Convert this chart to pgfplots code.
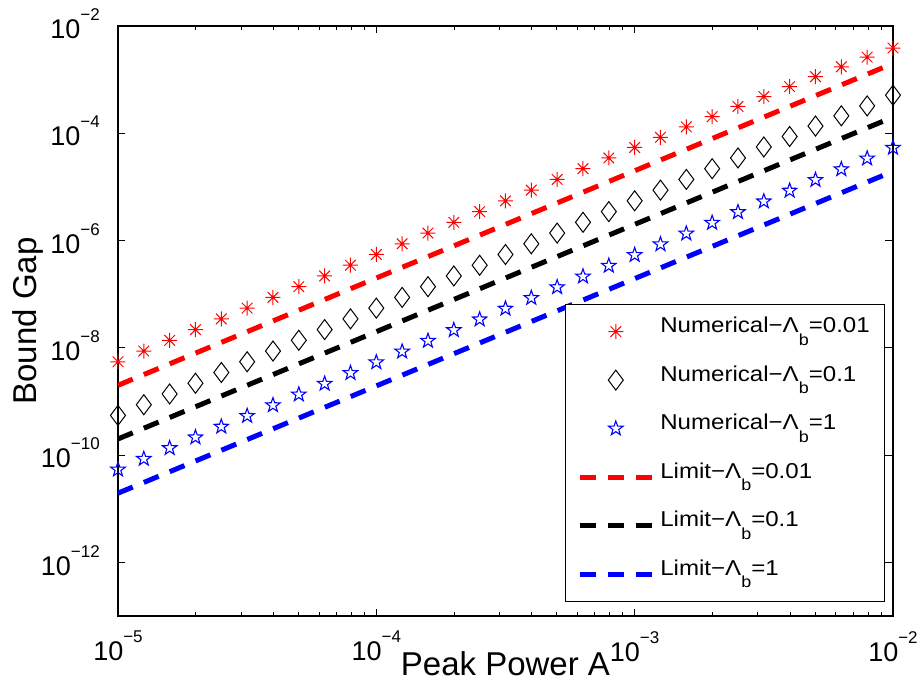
\documentclass[border=0pt]{standalone}
\usepackage{fontspec}
\setmainfont{Liberation Sans}
\newfontfamily\legfont{Liberation Sans}[FakeStretch=1.12]
\usepackage{pgfplots}
\usepackage{pgfplotstable}
\pgfplotsset{compat=1.18}
\usetikzlibrary{plotmarks}

\pgfdeclareplotmark{mlstar}{%
  \pgfpathmoveto{\pgfqpoint{-\pgfplotmarksize}{0pt}}\pgfpathlineto{\pgfqpoint{\pgfplotmarksize}{0pt}}%
  \pgfpathmoveto{\pgfqpoint{0pt}{-\pgfplotmarksize}}\pgfpathlineto{\pgfqpoint{0pt}{\pgfplotmarksize}}%
  \pgfpathmoveto{\pgfqpoint{-.7071\pgfplotmarksize}{-.7071\pgfplotmarksize}}\pgfpathlineto{\pgfqpoint{.7071\pgfplotmarksize}{.7071\pgfplotmarksize}}%
  \pgfpathmoveto{\pgfqpoint{-.7071\pgfplotmarksize}{.7071\pgfplotmarksize}}\pgfpathlineto{\pgfqpoint{.7071\pgfplotmarksize}{-.7071\pgfplotmarksize}}%
  \pgfusepathqstroke}
\pgfdeclareplotmark{pstar}{%
  \pgfpathmoveto{\pgfqpointpolar{90}{\pgfplotmarksize}}%
  \pgfpathlineto{\pgfqpointpolar{126}{0.4\pgfplotmarksize}}%
  \pgfpathlineto{\pgfqpointpolar{162}{\pgfplotmarksize}}%
  \pgfpathlineto{\pgfqpointpolar{198}{0.4\pgfplotmarksize}}%
  \pgfpathlineto{\pgfqpointpolar{234}{\pgfplotmarksize}}%
  \pgfpathlineto{\pgfqpointpolar{270}{0.4\pgfplotmarksize}}%
  \pgfpathlineto{\pgfqpointpolar{306}{\pgfplotmarksize}}%
  \pgfpathlineto{\pgfqpointpolar{342}{0.4\pgfplotmarksize}}%
  \pgfpathlineto{\pgfqpointpolar{18}{\pgfplotmarksize}}%
  \pgfpathlineto{\pgfqpointpolar{54}{0.4\pgfplotmarksize}}%
  \pgfpathclose\pgfusepathqstroke}

\newcommand{\tenexp}[1]{10\raisebox{18pt}{\fontsize{17}{18}\selectfont −#1}}
\newcommand{\Lb}{Λ\raisebox{-12.5pt}{\fontsize{16}{16}\selectfont b}}

\pgfplotstableread{
x nr nk nb
1e-5 5.495e-9 5.495e-10 5.370e-11
1.2589e-5 8.710e-9 8.710e-10 8.511e-11
1.5849e-5 1.380e-8 1.380e-9 1.349e-10
1.9953e-5 2.188e-8 2.188e-9 2.138e-10
2.5119e-5 3.467e-8 3.467e-9 3.388e-10
3.1623e-5 5.495e-8 5.495e-9 5.370e-10
3.9811e-5 8.710e-8 8.710e-9 8.511e-10
5.0119e-5 1.380e-7 1.380e-8 1.349e-9
6.3096e-5 2.188e-7 2.188e-8 2.138e-9
7.9433e-5 3.467e-7 3.467e-8 3.388e-9
1e-4 5.495e-7 5.495e-8 5.370e-9
1.2589e-4 8.710e-7 8.710e-8 8.511e-9
1.5849e-4 1.380e-6 1.380e-7 1.349e-8
1.9953e-4 2.188e-6 2.188e-7 2.138e-8
2.5119e-4 3.467e-6 3.467e-7 3.388e-8
3.1623e-4 5.495e-6 5.495e-7 5.370e-8
3.9811e-4 8.710e-6 8.710e-7 8.511e-8
5.0119e-4 1.380e-5 1.380e-6 1.349e-7
6.3096e-4 2.188e-5 2.188e-6 2.138e-7
7.9433e-4 3.467e-5 3.467e-6 3.388e-7
1e-3 5.433e-5 5.495e-6 5.370e-7
1.2589e-3 8.414e-5 8.710e-6 8.511e-7
1.5849e-3 1.318e-4 1.380e-5 1.349e-6
1.9953e-3 2.042e-4 2.188e-5 2.138e-6
2.5119e-3 3.162e-4 3.467e-5 3.388e-6
3.1623e-3 4.842e-4 5.559e-5 5.370e-6
3.9811e-3 7.413e-4 8.710e-5 8.511e-6
5.0119e-3 1.135e-3 1.365e-4 1.349e-5
6.3096e-3 1.738e-3 2.113e-4 2.138e-5
7.9433e-3 2.630e-3 3.236e-4 3.388e-5
1e-2 3.890e-3 5.129e-4 5.370e-5
}\numtab

\pgfplotstableread{
x lr lk lb
1e-5 2e-9 2e-10 1.95e-11
1e-2 2e-3 2e-4 1.95e-5
}\limtab

\begin{document}
\begin{tikzpicture}
\begin{axis}[
  scale only axis, width=775pt, height=590pt,
  at={(0pt,0pt)}, anchor=south west,
  xmode=log, ymode=log,
  xmin=1e-5, xmax=1e-2, ymin=1e-13, ymax=1e-2,
  xtick={1e-5,1e-4,1e-3,1e-2},
  xticklabels={\tenexp{5},\tenexp{4},\tenexp{3},\tenexp{2}},
  minor xtick={2e-5,3e-5,4e-5,5e-5,6e-5,7e-5,8e-5,9e-5,2e-4,3e-4,4e-4,5e-4,6e-4,7e-4,8e-4,9e-4,2e-3,3e-3,4e-3,5e-3,6e-3,7e-3,8e-3,9e-3},
  ytick={1e-12,1e-10,1e-8,1e-6,1e-4,1e-2},
  yticklabels={\tenexp{12},\tenexp{10},\tenexp{8},\tenexp{6},\tenexp{4},\tenexp{2}},
  yminorticks=false,
  major tick length=7.5pt, minor tick length=4pt,
  every tick/.style={black, line width=0.9pt},
  axis line style={line width=1.1pt},
  tick label style={font=\fontsize{27}{30}\selectfont},
  xticklabel style={anchor=north, inner sep=0pt, yshift=-15pt},
  yticklabel style={anchor=east, inner sep=0pt, xshift=-18pt, yshift=2pt},
  xlabel={Peak Power A},
  ylabel={Bound Gap},
  every axis x label/.style={at={(axis description cs:0.5,-0.1)}, anchor=base, font=\fontsize{33}{36}\selectfont},
  every axis y label/.style={at={(axis description cs:-0.1049,0.5)}, rotate=90, anchor=base, font=\fontsize{33}{36}\selectfont},
  legend cell align=left,
  legend style={at={(0.99,0.024)}, anchor=south east, draw=black, line width=1pt, fill=white,
    font=\legfont\fontsize{21.5}{24}\selectfont, inner xsep=12pt, inner ysep=10pt,
    row sep=14pt, column sep=3pt, nodes={inner sep=3pt, text height=15.5pt, text depth=13pt}},
  legend image code/.code={\draw[mark repeat=2,mark phase=2,#1] plot coordinates {(0pt,0pt) (36pt,0pt) (72pt,0pt)};},
]
\addplot[only marks, color=red, mark=mlstar, mark size=7.5pt, mark options={solid, line width=1pt}] table[x=x,y=nr]{\numtab};
\addlegendentry{Numerical−\Lb=0.01}
\addplot[only marks, color=black, mark=diamond, mark size=10pt, mark options={solid, fill=white, line width=1pt}] table[x=x,y=nk]{\numtab};
\addlegendentry{Numerical−\Lb=0.1}
\addplot[only marks, color=blue, mark=pstar, mark size=7.6pt, mark options={solid, line width=1.1pt}] table[x=x,y=nb]{\numtab};
\addlegendentry{Numerical−\Lb=1}
\addplot[color=red, line width=5pt, dash pattern=on 16pt off 12pt, no marks] table[x=x,y=lr]{\limtab};
\addlegendentry{Limit−\Lb=0.01}
\addplot[color=black, line width=5pt, dash pattern=on 16pt off 12pt, no marks] table[x=x,y=lk]{\limtab};
\addlegendentry{Limit−\Lb=0.1}
\addplot[color=blue, line width=5pt, dash pattern=on 16pt off 12pt, no marks] table[x=x,y=lb]{\limtab};
\addlegendentry{Limit−\Lb=1}
\end{axis}
\path (-118pt,-72pt) rectangle (805pt,616pt);
\end{tikzpicture}
\end{document}
